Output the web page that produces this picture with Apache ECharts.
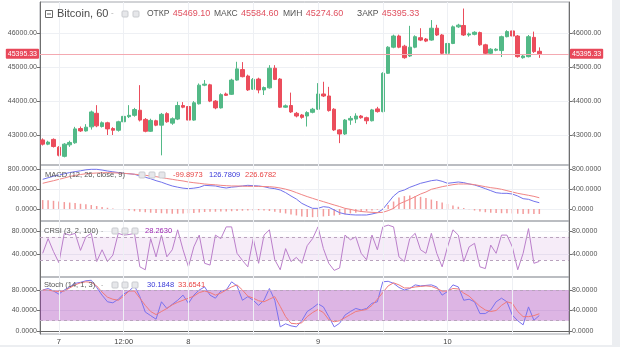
<!DOCTYPE html>
<html><head><meta charset="utf-8">
<script src="https://cdn.jsdelivr.net/npm/echarts@6/dist/echarts.min.js"></script>
<style>html,body{margin:0;padding:0;background:#fff}#c{width:620px;height:347px}</style>
</head><body><div id="c"></div>
<script>
// ---- data (hourly candles, Bitcoin, 60) ----
const open = [42855,42730,42870,42640,42370,42710,42770,43190,43120,43240, 43640,43250,43360,43190,43140,43390,43540,43580,43730,43460, 43110,43420,43290,43630,43350,43470,43870,43840,43440,43920, 44470,44480,44000,43800,44210,44200,44620,44930,44740,44350, 44650,44330,44390,44970,44650,43820,43870,43640,43590,43560, 43670,43760,44210,44150,43760,43150,43030,43440,43470,43560, 43510,43420,43770,43690,44820,45590,45920,45620,45330,45590, 45870,45830,45800,46150,45950,45410,45700,46190,46230,45950, 45970,46020,45660,45410,45500,45490,45900,46070,45920,45280, 45310,45880,45469.10];
const close = [42730,42790,42660,42400,42730,42780,43180,43120,43230,43680, 43270,43360,43180,43140,43390,43550,43580,43750,43440,43110, 43430,43290,43610,43390,43480,43870,43820,43440,43950,44470, 44500,44000,43800,44190,44170,44620,44950,44720,44330,44640, 44330,44400,44970,44640,43820,43860,43680,43560,43520,43660, 43760,44210,44150,43720,43150,43030,43440,43490,43560,43510, 43420,43740,43690,44820,45590,45920,45590,45280,45590,45900, 45800,45770,46150,45950,45410,45700,46190,46240,45950,45980, 46030,45660,45410,45530,45530,45900,46050,45920,45310,45330, 45900,45460,45395.33];
const low = [42690,42700,42630,42370,42340,42650,42740,43090,43100,43160, 43230,43220,43000,43000,43100,43350,43500,43540,43400,43080, 43090,43260,42400,43360,43300,43440,43790,43400,43420,43900, 44440,43970,43760,43780,44150,44180,44600,44700,44300,44330, 44230,44180,44370,44620,43800,43800,43650,43520,43480,43250, 43640,43740,44120,43690,43120,42760,43000,43300,43350,43480, 43320,43400,43660,43670,44800,45560,45560,45250,45300,45560, 45770,45740,45780,45920,45380,44820,45680,46160,45920,45900, 45940,45630,45380,45380,45470,45300,45880,45890,45280,45250, 45290,45420,45274.60];
const high = [42900,42830,42900,42670,42760,42830,43240,43250,43320,43720, 43880,43400,43390,43230,43420,43600,43880,43800,44470,43500, 43480,43450,43650,43670,43520,43980,43970,44250,44000,44520, 44620,44510,44030,44230,44250,44660,45160,45150,44780,44680, 44690,44430,45060,45060,44680,43900,44250,43680,43620,43700, 43800,44530,44570,44420,43790,43170,43470,43560,43640,43590, 43540,43770,43830,44850,45620,45960,45960,45660,46220,45940, 46150,45860,46390,46250,45980,45730,46230,46280,46730,46020, 46060,46050,45690,45560,45560,45930,46090,46100,45950,45360, 45950,46050,45584.60];

const macdLine = [598,630,660,685,710,735,753,770,790,800, 800,785,766,750,735,719,710,700,665,640, 610,571,540,500,464,440,420,410,420,437, 477,470,464,440,423,440,450,465,477,470, 464,450,423,410,383,330,262,200,114,61, 13,13,47,34,-20,-74,-101,-114,-121,-121, -121,-101,-74,-7,128,262,350,383,437,477, 518,544,571,585,558,518,531,544,531,504, 484,450,410,370,329,316,316,302,262,208, 195,155,126.7809];
const signalLine = [518,545,570,598,625,655,679,695,710,719, 726,730,733,730,725,719,712,700,692,680, 665,652,635,615,598,580,565,544,530,518, 504,495,488,477,470,464,464,460,457,457, 455,452,450,440,423,400,370,330,289,250, 215,180,148,114,81,50,13,-7,-33,-50, -60,-67,-74,-67,-33,13,101,148,195,249, 302,343,397,423,450,470,491,504,504,504, 491,470,450,430,417,397,370,343,316,296, 276,255,226.6782];
const macdHist = [180,175,165,150,140,130,120,105,95,80, 60,40,25,10,0,-15,-30,-45,-55,-65, -75,-80,-85,-90,-95,-95,-90,-85,-80,-70, -60,-55,-55,-50,-50,-45,-40,-35,-30,-30, -25,-30,-40,-55,-75,-90,-110,-130,-150,-160, -165,-160,-150,-140,-130,-120,-105,-90,-75,-60, -45,-30,-15,10,80,150,230,260,270,260, 245,220,190,160,130,100,70,45,20,-5, -30,-50,-65,-75,-80,-85,-85,-90,-95,-100, -95,-100,-99.8973];

const crsi = [42,67,45,26,76,73,76,47,70,76, 28,48,28,39,76,73,74,76,19,14, 67,36,73,36,48,82,48,19,53,73, 25,22,73,67,87,87,42,30,19,67, 25,73,82,31,14,50,28,35,25,55, 67,87,50,25,13,17,73,65,70,42, 31,73,48,87,90,87,36,28,67,76, 48,42,76,42,19,53,82,73,28,53, 59,19,16,56,42,73,73,53,14,42, 84,25,28.2630];

const stochK = [80,83,78,72,80,86,93,95,98,99, 85,70,57,55,62,72,78,88,67,37, 30,23,57,44,52,60,70,54,70,80, 86,70,64,78,80,96,88,60,67,60, 50,60,83,60,8,14,10,8,20,38, 45,53,47,28,8,15,31,38,44,41, 44,54,57,96,97,93,85,80,83,90, 88,89,90,86,70,77,90,86,60,62, 57,34,34,41,57,64,57,31,20,12, 47,21,30.1848];
const stochD = [80,80,78,77,78,84,90,94,96,95, 88,76,66,62,60,68,78,78,64,50, 38,32,38,44,51,56,60,64,68,75, 78,75,70,74,80,86,90,80,68,64, 59,57,62,67,48,28,15,14,16,28, 36,42,36,22,18,20,26,32,38,40, 42,50,62,75,88,94,90,84,84,86, 87,88,87,83,78,78,83,82,74,68, 58,48,41,38,40,50,57,54,38,28, 28,30,33.6541];

const crsiBand = [30, 70];
const stochBand = [20, 80];
const mainTicks = [43000, 44000, 45000, 46000];
const macdTicks = [0, 400, 800];
const crsiTicks = [40, 80];
const stochTicks = [0, 40, 80];

// time categories: hourly from 6th 21:00 (extra empty slots at the right)
const categories = [];
for (let i = 0; i < 98; i++) {
  const t = 21 + i, d = 6 + Math.floor(t / 24), h = t % 24;
  categories.push(d + ' ' + String(h).padStart(2, '0') + ':00');
}
const xLabelMap = {'7 00:00': '7', '7 12:00': '12:00', '8 00:00': '8', '9 00:00': '9', '10 00:00': '10'};
const gridTimes = categories.filter(c => / (00|12):00$/.test(c));

const last = close.length - 1;
const lastClose = close[last];
const FONT = '"Liberation Sans", Roboto, sans-serif';

const candleData = open.map((o, i) => [o, close[i], low[i], high[i]]);

function vLines() {
  return gridTimes.map(c => ({xAxis: c, lineStyle: {color: '#eef0f4', width: 1, type: 'solid'}, label: {show: false}}));
}

function xAx(gi, showLabels) {
  return {
    type: 'category', gridIndex: gi, data: categories, boundaryGap: true,
    axisLine: {show: showLabels, lineStyle: {color: '#666'}},
    axisTick: {show: showLabels, alignWithLabel: true, length: 3, interval: (i, v) => / (00|12):00$/.test(v), lineStyle: {color: '#666'}},
    axisLabel: {show: showLabels, interval: (i, v) => v in xLabelMap, formatter: v => xLabelMap[v] || '', fontSize: 7.5, color: '#444', margin: 4, fontFamily: FONT},
    splitLine: {show: false}
  };
}
function yAx(gi, pos, min, max, ticks, dec, split) {
  return {
    type: 'value', gridIndex: gi, position: pos, min: min, max: max,
    axisLine: {show: true, lineStyle: {color: '#6f6f6f'}},
    axisTick: {show: true, customValues: ticks, length: 3, lineStyle: {color: '#6f6f6f'}},
    axisLabel: {customValues: ticks, formatter: v => v.toFixed(dec), fontSize: 7, color: '#555', margin: 3, fontFamily: FONT},
    splitLine: {show: split, lineStyle: {color: '#eef0f4'}}
  };
}

const grids = [
  {left: 40, right: 51, top: 2, height: 163},
  {left: 40, right: 51, top: 165, height: 56},
  {left: 40, right: 51, top: 221, height: 56},
  {left: 40, right: 51, top: 277, height: 57}
].map(g => Object.assign(g, {show: true, borderColor: '#a4a7ad', borderWidth: 1, backgroundColor: 'transparent'}));

const ranges = [[42115, 46923, mainTicks, 2], [-242, 887, macdTicks, 4], [1.7, 97, crsiTicks, 4], [-5.9, 105.4, stochTicks, 4]];
const yAxes = [];
ranges.forEach((r, gi) => {
  yAxes.push(yAx(gi, 'left', r[0], r[1], r[2], r[3], true));
  yAxes.push(yAx(gi, 'right', r[0], r[1], r[2], r[3], false));
});

function priceLabel(pos) {
  return {show: true, position: pos, distance: 1, formatter: lastClose.toFixed(2), color: '#fff', fontSize: 7,
    fontFamily: FONT, backgroundColor: '#e8485a', padding: [2, 2, 1, 2], borderRadius: 1};
}

const bandArea = (band, alpha) => ({silent: true, itemStyle: {color: 'rgba(156,39,176,' + alpha + ')'}, data: [[{yAxis: band[0]}, {yAxis: band[1]}]]});
const bandLines = (band) => ({symbol: 'none', silent: true, animation: false,
  data: [...vLines(), {yAxis: band[0], lineStyle: {color: '#b9a3bd', type: [3, 3], width: 1}, label: {show: false}},
         {yAxis: band[1], lineStyle: {color: '#b9a3bd', type: [3, 3], width: 1}, label: {show: false}}]});

const series = [
  {type: 'candlestick', xAxisIndex: 0, yAxisIndex: 0, data: candleData, barWidth: 4,
    itemStyle: {color: '#53b987', color0: '#eb4d5c', borderColor: '#53b987', borderColor0: '#eb4d5c', borderWidth: 1},
    markLine: {symbol: 'none', silent: true, animation: false, data: [
      ...vLines(),
      {yAxis: lastClose, lineStyle: {color: '#f4a9b1', width: 1, type: 'solid'}, label: priceLabel('start')},
      {yAxis: lastClose, lineStyle: {color: '#f4a9b1', width: 1, type: 'solid'}, label: priceLabel('end')}
    ]}},
  {type: 'bar', xAxisIndex: 1, yAxisIndex: 2, data: macdHist, barWidth: 1.5, itemStyle: {color: '#f39c9c'},
    markLine: {symbol: 'none', silent: true, animation: false, data: vLines()}},
  {type: 'line', xAxisIndex: 1, yAxisIndex: 2, data: macdLine, showSymbol: false, lineStyle: {color: '#7272ec', width: 1}},
  {type: 'line', xAxisIndex: 1, yAxisIndex: 2, data: signalLine, showSymbol: false, lineStyle: {color: '#f18585', width: 1}},
  {type: 'line', xAxisIndex: 2, yAxisIndex: 4, data: crsi, showSymbol: false, lineStyle: {color: '#bb7fcb', width: 1},
    markArea: bandArea(crsiBand, 0.09), markLine: bandLines(crsiBand)},
  {type: 'line', xAxisIndex: 3, yAxisIndex: 6, data: stochK, showSymbol: false, lineStyle: {color: '#7a72ee', width: 1},
    markArea: bandArea(stochBand, 0.34), markLine: bandLines(stochBand)},
  {type: 'line', xAxisIndex: 3, yAxisIndex: 6, data: stochD, showSymbol: false, lineStyle: {color: '#f07a7a', width: 1}}
];

// ---- header texts ----
const g = [];
function txt(x, y, s, color, size) {
  g.push({type: 'text', x: x, y: y, silent: true, z: 100,
    style: {text: s, fill: color, fontSize: size, fontFamily: FONT, verticalAlign: 'middle', align: 'left'}});
}
function pair(x, y, label, value, size, vColor) {
  g.push({type: 'text', x: x, y: y, silent: true, z: 100,
    style: {text: '{l|' + label + '} {v|' + value + '}', verticalAlign: 'middle', align: 'left', fontFamily: FONT,
      rich: {l: {fill: '#555', fontSize: size - 0.5, fontFamily: FONT}, v: {fill: vColor, fontSize: size, fontFamily: FONT}}}});
}
function icon(x, y) {
  g.push({type: 'rect', shape: {x: x, y: y, width: 6, height: 6, r: 1}, silent: true, z: 100,
    style: {fill: '#e6e7ea', stroke: '#c9cbcf', lineWidth: 1}});
}
// main title
g.push({type: 'rect', shape: {x: 45.5, y: 10.5, width: 7, height: 7}, z: 100, silent: true, style: {fill: '#fff', stroke: '#666', lineWidth: 1}});
g.push({type: 'line', shape: {x1: 47, y1: 14, x2: 51, y2: 14}, z: 100, silent: true, style: {stroke: '#666', lineWidth: 1}});
txt(57, 14, 'Bitcoin, 60', '#4a4a4a', 11);
txt(111, 13, '-', '#aaa', 8);
icon(122, 11); icon(133, 11);
const ohlcLabels = [['ОТКР', open[last], 147], ['МАКС', high[last], 214], ['МИН', low[last], 283], ['ЗАКР', close[last], 357]];
ohlcLabels.forEach(o => pair(o[2], 14, o[0], o[1].toFixed(2), 9, '#e0505f'));
// MACD
txt(45, 175, 'MACD (12, 26, close, 9)', '#555', 7.5);
icon(139, 172); icon(149, 172); icon(159, 172);
txt(173, 175, macdHist[last].toFixed(4), '#e84545', 7.5);
txt(209, 175, macdLine[last].toFixed(4), '#3a3ad8', 7.5);
txt(245, 175, signalLine[last].toFixed(4), '#e84545', 7.5);
// CRSI
txt(44, 231, 'CRSI (3, 2, 100)', '#555', 7.5);
txt(101, 231, '-', '#aaa', 7);
icon(112, 228); icon(122, 228); icon(132, 228);
txt(145, 231, crsi[last].toFixed(4), '#9c27b0', 7.5);
// Stoch
txt(44, 285, 'Stoch (14, 1, 3)', '#555', 7.5);
txt(101, 285, '-', '#aaa', 7);
icon(112, 282); icon(122, 282); icon(132, 282);
txt(147, 285, stochK[last].toFixed(4), '#3a3ad8', 7.5);
txt(178, 285, stochD[last].toFixed(4), '#e84545', 7.5);
// outer light frame
g.push({type: 'rect', shape: {x: 612, y: 0, width: 8, height: 347}, silent: true, z: 90, style: {fill: '#eceef1'}});
g.push({type: 'rect', shape: {x: 0, y: 345, width: 620, height: 2}, silent: true, z: 90, style: {fill: '#eceef1'}});

const chart = echarts.init(document.getElementById('c'), null, {renderer: 'canvas'});
chart.setOption({
  animation: false,
  backgroundColor: '#ffffff',
  grid: grids,
  xAxis: [xAx(0, false), xAx(1, false), xAx(2, false), xAx(3, true)],
  yAxis: yAxes,
  series: series,
  graphic: g
});
</script></body></html>
